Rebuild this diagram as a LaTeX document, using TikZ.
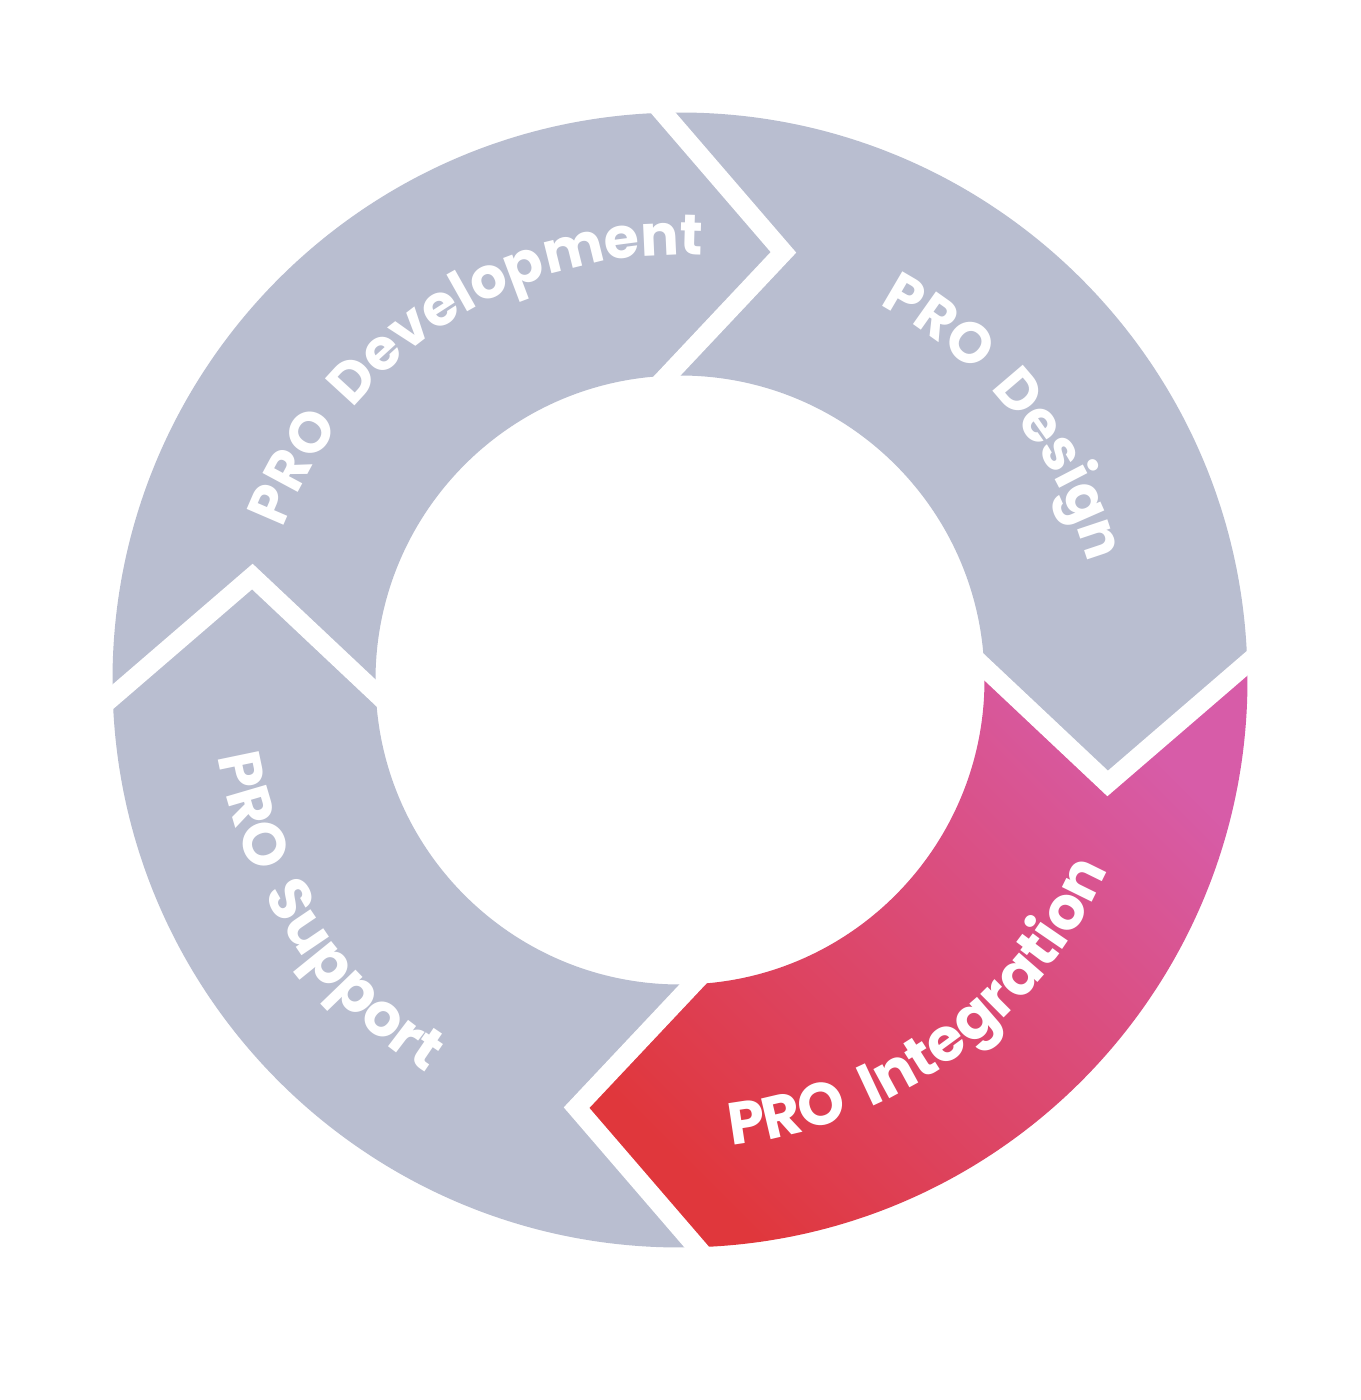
\documentclass[tikz,border=0pt]{standalone}
\usepackage{fontspec}
\setmainfont{Poppins}
\usetikzlibrary{decorations.text,calc}
\definecolor{ringgray}{HTML}{B9BED0}
\definecolor{intred}{HTML}{E0373C}
\definecolor{intpink}{HTML}{D75CA8}
\newcommand\lblfont{\fontsize{57}{60}\selectfont\bfseries\color{white}}
\newcommand\lblfontb{\fontsize{59.5}{62}\selectfont\bfseries\color{white}}
\newcommand\wsp{{\kern22pt}}
\def\rOut{567.5}
\def\rIn{304.5}
\def\rTip{440}
\begin{document}
\begin{tikzpicture}[x=1pt,y=1pt,
  seg/.style={fill=ringgray},
  gap/.style={draw=white, line width=19pt, line join=miter},
  cwlabel/.style={decorate, decoration={text along path, text align=center, text={|\lblfont|#1}}},
  ccwlabel/.style={decorate, decoration={text along path, text align=center, text={|\lblfontb|#1}}}]
\fill[white] (-680,-720) rectangle (680,680);
\useasboundingbox (-680,-720) rectangle (680,680);
\foreach \o/\n in {0/T,-90/E,-180/B,90/W} {
  \coordinate (\n o) at (91.7+\o:\rOut);
  \coordinate (\n t) at (76.4+\o:\rTip);
  \coordinate (\n i) at (92.4+\o:\rIn);
}
% PRO Development
\path[seg] (Wo) arc[start angle=181.7, end angle=91.7, radius=\rOut] -- (Tt) -- (Ti)
  arc[start angle=92.4, end angle=182.4, radius=\rIn] -- (Wt) -- cycle;
% PRO Design
\path[seg] (To) arc[start angle=91.7, end angle=1.7, radius=\rOut] -- (Et) -- (Ei)
  arc[start angle=2.4, end angle=92.4, radius=\rIn] -- (Tt) -- cycle;
% PRO Integration
\shade[left color=intred, right color=intpink, shading angle=135] (Eo) arc[start angle=1.7, end angle=-88.3, radius=\rOut] -- (Bt) -- (Bi)
  arc[start angle=-87.6, end angle=2.4, radius=\rIn] -- (Et) -- cycle;
% PRO Support
\path[seg] (Bo) arc[start angle=-88.3, end angle=-178.3, radius=\rOut] -- (Wt) -- (Wi)
  arc[start angle=-177.6, end angle=-87.6, radius=\rIn] -- (Bt) -- cycle;
% gaps
\foreach \n in {T,E,B,W}
  \draw[gap] ($(\n t)!1.15!(\n o)$) -- (\n t) -- ($(\n t)!1.15!(\n i)$);
% labels
\path[cwlabel={PRO{\kern22pt}Development}] (183:425) arc[start angle=183, end angle=63, radius=425];
\path[cwlabel={PRO{\kern22pt}Design}] (99:425) arc[start angle=99, end angle=-21, radius=425];
\path[ccwlabel={PRO{\kern22pt}Integration}] (-113.8:468) arc[start angle=-113.8, end angle=6.2, radius=468];
\path[ccwlabel={PRO{\kern22pt}Support}] (153.3:468) arc[start angle=153.3, end angle=273.3, radius=468];
\end{tikzpicture}
\end{document}
